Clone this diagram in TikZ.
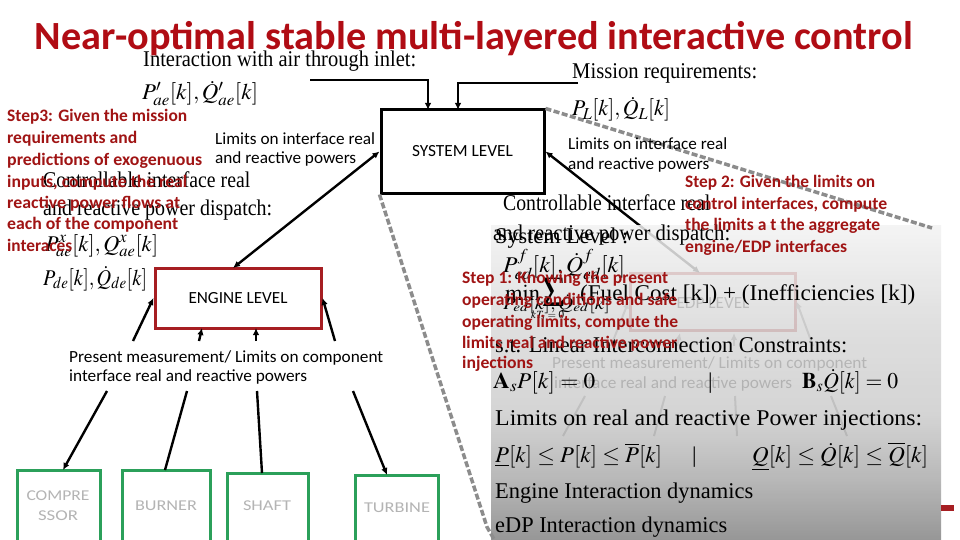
\documentclass[tikz,border=0pt]{standalone}
\usepackage{mathptmx}
\usepackage[no-math]{fontspec}
\setmainfont{Liberation Serif}
\newfontfamily\carl{Carlito}
\usepackage{graphicx}
\usetikzlibrary{arrows.meta}
\newcommand\fw[2]{\resizebox{#1pt}{\height}{#2}}
\definecolor{titlered}{HTML}{B00C14}
\definecolor{stepred}{HTML}{A01414}
\definecolor{engred}{HTML}{A61E22}
\definecolor{compgreen}{HTML}{2BA05A}
\definecolor{compgray}{HTML}{B4B4B4}
\definecolor{dashc}{HTML}{8C8C8C}
\definecolor{pA}{HTML}{848484}
\definecolor{pB}{HTML}{ADADAD}
\definecolor{pC}{HTML}{CDCDCD}
\definecolor{pD}{HTML}{DBDBDB}
\definecolor{pE}{HTML}{F3F3F3}
\pgfdeclareverticalshading{panelsh}{100bp}{color(0bp)=(pA); color(25bp)=(pA); color(35bp)=(pB); color(45bp)=(pC); color(60bp)=(pD); color(75bp)=(pE); color(100bp)=(pE)}
\begin{document}
\begin{tikzpicture}[x=1pt,y=-1pt,
  tm/.style={inner sep=0pt, anchor=base west, font=\fontsize{22.5}{27}\selectfont},
  sans/.style={inner sep=0pt, anchor=base west, font=\carl\fontsize{17}{20}\selectfont},
  steptxt/.style={inner sep=0pt, anchor=base west, text=stepred, font=\carl\bfseries\fontsize{17.5}{21}\selectfont},
  boxnode/.style={draw, line width=3pt, inner sep=0pt},
  compbox/.style={draw=compgreen, line width=3pt, inner sep=0pt, align=center, text=compgray, font=\carl\fontsize{15}{20}\selectfont},
  arr/.style={line width=2.4pt, -{Latex[length=7pt,width=6.5pt]}},
  plain/.style={line width=2.4pt},
  faint/.style={line width=2pt, draw=black!55},
  dbl/.style={line width=2.4pt, {Latex[length=7pt,width=6.5pt]}-{Latex[length=7pt,width=6.5pt]}},
  dashg/.style={draw=dashc, line width=3.5pt, dash pattern=on 6pt off 2.5pt}]
\clip (0,0) rectangle (960,540);
\fill[white] (0,0) rectangle (960,540);

% ---- boxes (system level first, referenced by connectors) ----
\node[boxnode, minimum width=163pt, minimum height=83pt, font=\carl\fontsize{17}{20}\selectfont] (sys) at (462.5,151.5) {\fw{101}{SYSTEM LEVEL}};

% ---- faded EDP layer (under the panel) ----
\node[boxnode, draw=engred, minimum width=165pt, minimum height=57pt] (edp) at (712.5,301.5) {};
\node[sans, anchor=base] (edptxt) at (713,308) {\fw{73}{EDP LEVEL}};
\node[sans] (edpm1) at (552,368) {\fw{315}{Present measurement/ Limits on component}};
\node[sans] (edpm2) at (554,388) {\fw{238}{interface real and reactive powers}};
\coordinate (q1) at (611,346); \coordinate (q2) at (677,346); \coordinate (q3) at (734,346); \coordinate (q4) at (813,346);
\coordinate (q2e) at (680,333); \coordinate (q3e) at (734,333);
\draw[faint, -{Latex[length=7pt,width=6.5pt]}] (q1) -- (edp.west);
\draw[faint, -{Latex[length=7pt,width=6.5pt]}] (q2) -- (q2e);
\draw[faint, -{Latex[length=7pt,width=6.5pt]}] (q3) -- (q3e);
\draw[faint, -{Latex[length=7pt,width=6.5pt]}] (q4) -- (edp.east);
\coordinate (r1) at (585,396); \coordinate (r1e) at (563,436);
\coordinate (r2) at (665,396); \coordinate (r2e) at (654,436);
\coordinate (r3) at (735,396); \coordinate (r3e) at (737,436);
\coordinate (r4) at (831,396); \coordinate (r4e) at (847,436);
\draw[faint] (r1) -- (r1e); \draw[faint] (r2) -- (r2e); \draw[faint] (r3) -- (r3e); \draw[faint] (r4) -- (r4e);
\coordinate (edpin) at (700,273);
\draw[dbl] (sys.east) -- (edpin);

% ---- gradient panel ----
\shade[shading=panelsh, opacity=0.85] (491,225) rectangle (941,541);
\fill[engred] (941,505) rectangle (954,511);

% ---- dashed zoom lines ----
\draw[dashg] (sys.south west) -- (487,527) -- (495,541);
\draw[dashg] (sys.north east) -- (932,228);

% ---- engine level and components ----
\node[boxnode, draw=engred, minimum width=166pt, minimum height=60pt, font=\carl\fontsize{17}{20}\selectfont] (eng) at (238,298) {\fw{99}{ENGINE LEVEL}};
\node[compbox, minimum width=83pt, minimum height=80pt] (comp) at (58.5,510) {};
\node[compbox, minimum width=88pt, minimum height=80pt] (burn) at (166,510) {};
\node[compbox, minimum width=81pt, minimum height=77pt] (shaft) at (267.5,511.5) {};
\node[compbox, minimum width=83pt, minimum height=75pt] (turb) at (396.5,512.5) {};
\node[inner sep=0pt, anchor=base, text=compgray, font=\carl\fontsize{15}{20}\selectfont] (compt1) at (58,500) {\fw{63}{COMPRE}};
\node[inner sep=0pt, anchor=base, text=compgray, font=\carl\fontsize{15}{20}\selectfont] (compt2) at (58,520) {\fw{40}{SSOR}};
\node[inner sep=0pt, anchor=base, text=compgray, font=\carl\fontsize{15}{20}\selectfont] (burnt) at (166,510) {\fw{62}{BURNER}};
\node[inner sep=0pt, anchor=base, text=compgray, font=\carl\fontsize{15}{20}\selectfont] (shaftt) at (267,510) {\fw{48}{SHAFT}};
\node[inner sep=0pt, anchor=base, text=compgray, font=\carl\fontsize{15}{20}\selectfont] (turbt) at (397,512) {\fw{66}{TURBINE}};

% connectors
\coordinate (air) at (310,80); \coordinate (sysin1) at (428,110);
\coordinate (mis) at (578,83); \coordinate (sysin2) at (458,110);
\draw[arr] (air) -| (sysin1);
\draw[arr] (mis) -| (sysin2);
\coordinate (engtop) at (233,268);
\draw[dbl] (sys.west) -- (engtop);
\coordinate (p1) at (133,341); \coordinate (p2) at (199,341); \coordinate (p3) at (256,341); \coordinate (p4) at (335,341);
\coordinate (p2e) at (202,328); \coordinate (p3e) at (256,328);
\draw[arr] (p1) -- (eng.west);
\draw[arr] (p2) -- (p2e);
\draw[arr] (p3) -- (p3e);
\draw[arr] (p4) -- (eng.east);
\coordinate (d1) at (107,391); \coordinate (d2) at (187,391); \coordinate (d3) at (257,391); \coordinate (d4) at (353,391);
\coordinate (d1e) at (63,470); \coordinate (d2e) at (165,470); \coordinate (d3e) at (262,473); \coordinate (d4e) at (387,475);
\draw[arr] (d1) -- (d1e);
\draw[plain] (d2) -- (d2e);
\draw[plain] (d3) -- (d3e);
\draw[arr] (d4) -- (d4e);

% ---- black serif texts ----
\node[tm] (t1) at (143,67) {\fw{273}{Interaction with air through inlet:}};
\node[tm] (t2) at (142,100) {\fw{116}{$P'_{ae}[k],\dot{Q}'_{ae}[k]$}};
\node[tm] (t3) at (572,79) {\fw{185}{Mission requirements:}};
\node[tm] (t4) at (572,116) {\fw{98}{$P_{L}[k],\dot{Q}_{L}[k]$}};
\node[tm] (t5) at (43,187) {\fw{207}{Controllable interface real}};
\node[tm] (t6) at (43,215) {\fw{229}{and reactive power dispatch:}};
\node[tm] (t7) at (45,251) {\fw{113}{$P^{x}_{ae}[k],Q^{x}_{ae}[k]$}};
\node[tm] (t8) at (43,285) {\fw{104}{$P_{de}[k],\dot{Q}_{de}[k]$}};
\node[tm] (t9) at (503,210) {\fw{207}{Controllable interface real}};
\node[tm] (t10) at (493,240) {\fw{237}{and reactive power dispatch:}};
\node[tm] (t11) at (495,243) {\fw{133}{System Level :}};
\node[tm] (t12) at (503,272) {\fw{122}{$P^{f}_{ed}[k],\dot{Q}^{f}_{ed}[k]$}};
\node[tm] (t13) at (505,300) {$\min$};
\node[inner sep=0pt, font=\fontsize{22.5}{27}\selectfont] (t14) at (554,292) {$\displaystyle\sum$};
\node[tm] (t15) at (580,300) {\fw{335}{(Fuel Cost [k]) + (Inefficiencies [k])}};
\node[tm, font=\fontsize{17}{20}\selectfont] (t16) at (503,309) {\fw{107}{$P_{ed}[k],\dot{Q}_{ed}[k]$}};
\node[tm, font=\fontsize{11}{13}\selectfont] (t17) at (531,318) {$kT_{s}=0$};
\node[tm] (t18) at (495,352) {\fw{352}{s.t. Linear Interconnection Constraints:}};
\node[tm] (t19) at (493,388) {\fw{102}{$\mathbf{A}_{s}P[k]=0$}};
\node[tm] (t20) at (708,388) {|};
\node[tm] (t21) at (802,388) {\fw{96}{$\mathbf{B}_{s}\dot{Q}[k]=0$}};
\node[tm] (t22) at (495,425) {\fw{427}{Limits on real and reactive Power injections:}};
\node[tm] (t23) at (495,462) {\fw{167}{$\underline{P}[k]\le P[k]\le \overline{P}[k]$}};
\node[tm] (t24) at (692,462) {|};
\node[tm] (t25) at (752,462) {\fw{176}{$\underline{Q}[k]\le \dot{Q}[k]\le \overline{Q}[k]$}};
\node[tm] (t26) at (495,498) {\fw{258}{Engine Interaction dynamics}};
\node[tm] (t27) at (495,532) {\fw{232}{eDP Interaction dynamics}};

% ---- sans labels ----
\node[sans] (l1) at (215,145) {\fw{160}{Limits on interface real}};
\node[sans] (l2) at (215,164) {\fw{141}{and reactive powers}};
\node[sans] (l3) at (568,150) {\fw{159}{Limits on interface real}};
\node[sans] (l4) at (568,170) {\fw{141}{and reactive powers}};
\node[sans] (l5) at (69,362) {\fw{314}{Present measurement/ Limits on component}};
\node[sans] (l6) at (69,381) {\fw{238}{interface real and reactive powers}};

% ---- red step texts ----
\node[steptxt] (s31) at (7,122) {\fw{180}{Step3: Given the mission}};
\node[steptxt] (s32) at (7,143) {\fw{130}{requirements and}};
\node[steptxt] (s33) at (7,165) {\fw{195}{predictions of exogenuous}};
\node[steptxt] (s34) at (7,187) {\fw{180}{inputs, compute the real}};
\node[steptxt] (s35) at (7,208) {\fw{173}{reactive power flows at}};
\node[steptxt] (s36) at (7,229) {\fw{171}{each of the component}};
\node[steptxt] (s37) at (7,251) {\fw{65}{interaces}};
\node[steptxt] (s21) at (685,187) {\fw{190}{Step 2: Given the limits on}};
\node[steptxt] (s22) at (685,209) {\fw{202}{control interfaces, compute}};
\node[steptxt] (s23) at (685,230) {\fw{195}{the limits a t the aggregate}};
\node[steptxt] (s24) at (685,252) {\fw{162}{engine/EDP interfaces}};
\node[steptxt] (s11) at (462,283) {\fw{206}{Step 1: Knowing the present}};
\node[steptxt] (s12) at (462,305) {\fw{215}{operating conditions and safe}};
\node[steptxt] (s13) at (462,327) {\fw{216}{operating limits, compute the}};
\node[steptxt] (s14) at (462,348) {\fw{215}{limits real and reactive power}};
\node[steptxt] (s15) at (462,368) {\fw{71}{injections}};

% ---- title ----
\node[inner sep=0pt, anchor=base, text=titlered, font=\carl\bfseries\fontsize{40}{48}\selectfont] (title) at (474,50) {\fw{878}{Near-optimal stable multi-layered interactive control}};
\end{tikzpicture}
\end{document}
